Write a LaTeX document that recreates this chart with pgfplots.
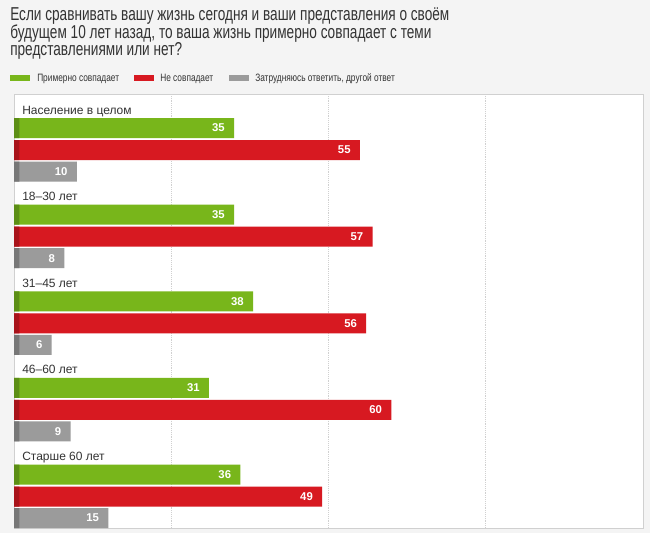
\documentclass[border=0pt]{standalone}
\usepackage{pgfplots}
\pgfplotsset{compat=1.18}
\usepackage{pgfplotstable}
\usepackage{fontspec}
\setmainfont{Liberation Sans}
\newfontfamily\narrowfont[FakeStretch=0.73]{Liberation Sans}
\newfontfamily\legfont[FakeStretch=0.78]{Liberation Sans}
\definecolor{bg}{HTML}{F4F4F4}
\definecolor{cgreen}{HTML}{78B61B}
\definecolor{cgreenD}{HTML}{5C8E15}
\definecolor{cred}{HTML}{D71921}
\definecolor{credD}{HTML}{A8131A}
\definecolor{cgray}{HTML}{9B9B9B}
\definecolor{cgrayD}{HTML}{777777}
\definecolor{txt}{HTML}{333333}
\definecolor{frame}{HTML}{D0D0D0}

\pgfplotstableread{
y v
128 35
214.6 35
301.3 38
387.9 31
474.5 36
}\greendata
\pgfplotstableread{
y v
150 55
236.6 57
323.3 56
409.9 60
496.5 49
}\reddata
\pgfplotstableread{
y v
171.5 10
258.1 8
344.8 6
431.4 9
518 15
}\graydata
\pgfplotstableread{
y v
128 0.85
214.6 0.85
301.3 0.85
387.9 0.85
474.5 0.85
}\greenstripe
\pgfplotstableread{
y v
150 0.85
236.6 0.85
323.3 0.85
409.9 0.85
496.5 0.85
}\redstripe
\pgfplotstableread{
y v
171.5 0.85
258.1 0.85
344.8 0.85
431.4 0.85
518 0.85
}\graystripe

\begin{document}
\begin{tikzpicture}
\fill[bg] (0,0) rectangle (487.5pt,399.75pt);
\begin{axis}[
  at={(10.5pt,3.75pt)}, anchor=south west,
  scale only axis, width=471.75pt, height=325.5pt,
  xmin=0, xmax=100, ymin=94, ymax=528, y dir=reverse,
  xbar, bar width=15pt, bar shift=0pt,
  axis background/.style={fill=white},
  axis line style={draw=frame, line width=0.6pt},
  xtick={25,50,75}, xticklabels={}, ytick=\empty,
  major tick length=0pt,
  xmajorgrids, major grid style={densely dotted, draw=frame, line width=0.6pt},
  /pgf/number format/assume math mode=true,
  every node near coord/.append style={anchor=east, xshift=-3.5pt, text=white,
     font=\bfseries\fontsize{8.5pt}{9pt}\selectfont},
  clip=false,
]
\addplot[fill=cgreen, draw=none, nodes near coords] table[x=v,y=y]{\greendata};
\addplot[fill=cred, draw=none, nodes near coords] table[x=v,y=y]{\reddata};
\addplot[fill=cgray, draw=none, nodes near coords] table[x=v,y=y]{\graydata};
\addplot[fill=cgreenD, draw=none, forget plot] table[x=v,y=y]{\greenstripe};
\addplot[fill=credD, draw=none, forget plot] table[x=v,y=y]{\redstripe};
\addplot[fill=cgrayD, draw=none, forget plot] table[x=v,y=y]{\graystripe};
\begin{scope}[every node/.style={anchor=base west, inner sep=0pt, text=txt, font=\fontsize{9pt}{10pt}\selectfont}]
\node at (axis cs:1.27,114) {Население в целом};
\node at (axis cs:1.27,200.6) {18–30 лет};
\node at (axis cs:1.27,287.3) {31–45 лет};
\node at (axis cs:1.27,373.9) {46–60 лет};
\node at (axis cs:1.27,460.5) {Старше 60 лет};
\end{scope}
\end{axis}
\begin{scope}[x=0.75pt, y=-0.75pt, yshift=399.75pt]
\begin{scope}[every node/.style={anchor=base west, inner sep=0pt, text=txt, font=\narrowfont\fontsize{14pt}{14pt}\selectfont}]
\node at (10,21) {Если сравнивать вашу жизнь сегодня и ваши представления о своём};
\node at (10,38.5) {будущем 10 лет назад, то ваша жизнь примерно совпадает с теми};
\node at (10,56) {представлениями или нет?};
\end{scope}
\fill[cgreen] (10,75) rectangle (30,81);
\fill[cred] (134,75) rectangle (154,81);
\fill[cgray] (229,75) rectangle (249,81);
\begin{scope}[every node/.style={anchor=base west, inner sep=0pt, text=txt, font=\legfont\fontsize{8pt}{9pt}\selectfont}]
\node at (37,81.5) {Примерно совпадает};
\node at (160,81.5) {Не совпадает};
\node at (255,81.5) {Затрудняюсь ответить, другой ответ};
\end{scope}
\end{scope}
\pgfresetboundingbox
\useasboundingbox (0,0) rectangle (487.5pt,399.75pt);
\end{tikzpicture}
\end{document}
